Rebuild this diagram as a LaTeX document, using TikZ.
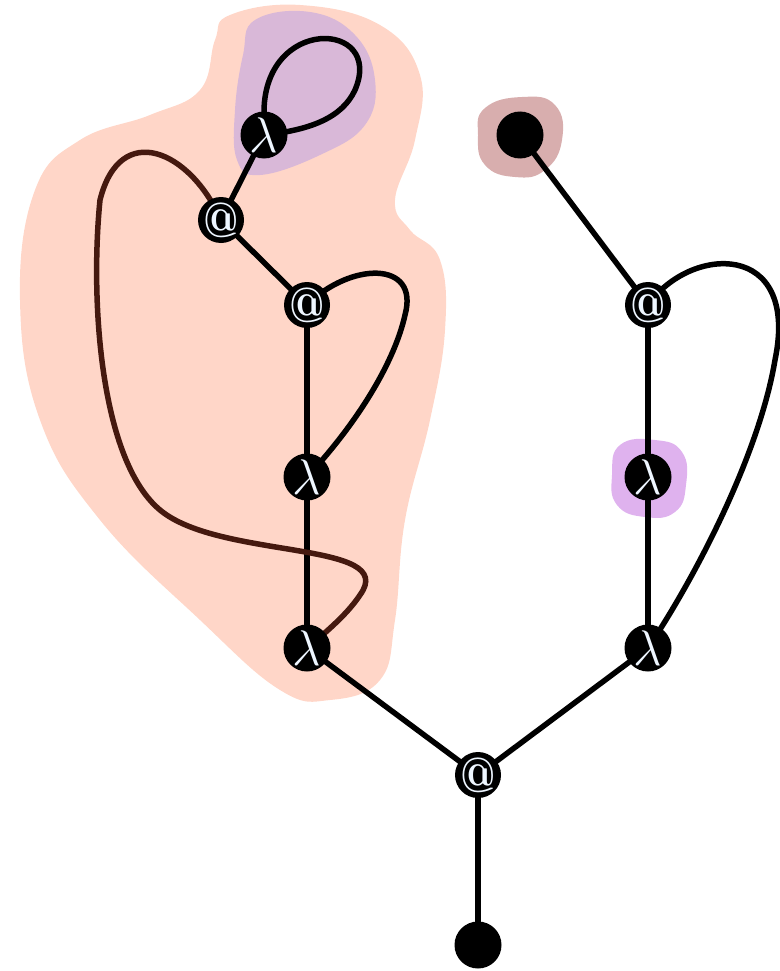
\RequirePackage{fix-cm}
\documentclass[tikz,border=0pt]{standalone}
\begin{document}
\begin{tikzpicture}[x=1pt,y=-1pt,
  edge/.style={line width=5.5pt,black},
  disc/.style={circle,fill=black,minimum size=47pt,inner sep=0pt},
  adisc/.style={circle,fill=black,minimum size=46pt,inner sep=0pt},
  ltext/.style={inner sep=0pt,text=nodetext,font=\fontsize{50}{50}\selectfont},
  atext/.style={inner sep=0pt,text=nodetext,font=\fontsize{52}{52}\selectfont\bfseries}]
\definecolor{nodetext}{HTML}{EEF6FF}
\definecolor{salmon}{HTML}{FFD6C8}
\definecolor{purp}{HTML}{D9B8D8}
\definecolor{rosy}{HTML}{D8AEAE}
\definecolor{lav}{HTML}{DFB2EE}
\definecolor{brownline}{HTML}{45190F}
\useasboundingbox (0,0) rectangle (779,971);
% blobs
\fill[salmon] plot[smooth cycle,tension=0.7] coordinates {(230,15) (300,5) (380,25) (420,75) (415,140) (395,200) (410,230) (440,260) (445,330) (430,420) (405,520) (395,620) (380,680) (330,700) (280,690) (200,620) (100,520) (40,420) (20,300) (35,190) (80,140) (150,115) (200,90) (215,40)};
\fill[purp] plot[smooth cycle,tension=0.7] coordinates {(255,20) (310,12) (355,35) (375,80) (365,125) (320,155) (260,175) (237,160) (235,110) (243,55)};
\fill[rosy] plot[smooth cycle,tension=0.8] coordinates {(485,108) (522,97) (555,105) (562,140) (545,170) (515,177) (485,165) (478,135)};
\fill[lav] plot[smooth cycle,tension=0.8] coordinates {(620,445) (655,440) (682,452) (686,485) (675,512) (645,517) (617,505) (612,475)};
% node positions
\coordinate (l1) at (264,135);
\coordinate (a1) at (221,220);
\coordinate (a2) at (307,305);
\coordinate (l2) at (307,477);
\coordinate (l3) at (307,648);
\coordinate (ac) at (478,775);
\coordinate (bot) at (478,945);
\coordinate (rt) at (520,135);
\coordinate (a3) at (648,305);
\coordinate (l4) at (648,477);
\coordinate (l5) at (648,648);
% edges
\draw[edge] (l1) -- (a1);
\draw[edge] (a1) -- (a2);
\draw[edge] (a2) -- (l2);
\draw[edge] (l2) -- (l3);
\draw[edge] (l3) -- (ac);
\draw[edge] (ac) -- (bot);
\draw[edge] (ac) -- (l5);
\draw[edge] (l5) -- (l4);
\draw[edge] (l4) -- (a3);
\draw[edge] (a3) -- (rt);
\draw[edge] (l1) ++(0,-20) .. controls (262,15) and (385,20) .. (355,90) .. controls (342,118) and (310,130) .. ([xshift=0pt]l1);
\draw[edge] (a2) .. controls (350,262) and (420,260) .. (405,315) .. controls (395,360) and (360,420) .. (l2);
\draw[edge] (a3) .. controls (690,245) and (800,240) .. (775,360) .. controls (760,450) and (700,570) .. (l5);
\draw[line width=5.5pt,brownline] (a1) .. controls (190,150) and (120,120) .. (100,200) .. controls (90,300) and (100,460) .. (160,510) .. controls (220,560) and (400,540) .. (360,595) .. controls (350,610) and (335,625) .. (l3);
% node discs
\node[disc] (l1d) at (l1) {};
\node[adisc] (a1d) at (a1) {};
\node[adisc] (a2d) at (a2) {};
\node[disc] (l2d) at (l2) {};
\node[disc] (l3d) at (l3) {};
\node[adisc] (acd) at (ac) {};
\node[disc] (botd) at (bot) {};
\node[disc] (rtd) at (rt) {};
\node[adisc] (a3d) at (a3) {};
\node[disc] (l4d) at (l4) {};
\node[disc] (l5d) at (l5) {};
% labels
\node[ltext] (l1t) at (l1) {$\lambda$};
\node[atext] (a1t) at (a1) {\scalebox{0.78}[0.95]{@}};
\node[atext] (a2t) at (a2) {\scalebox{0.78}[0.95]{@}};
\node[ltext] (l2t) at (l2) {$\lambda$};
\node[ltext] (l3t) at (l3) {$\lambda$};
\node[atext] (act) at (ac) {\scalebox{0.78}[0.95]{@}};
\node[atext] (a3t) at (a3) {\scalebox{0.78}[0.95]{@}};
\node[ltext] (l4t) at (l4) {$\lambda$};
\node[ltext] (l5t) at (l5) {$\lambda$};
\end{tikzpicture}
\end{document}
